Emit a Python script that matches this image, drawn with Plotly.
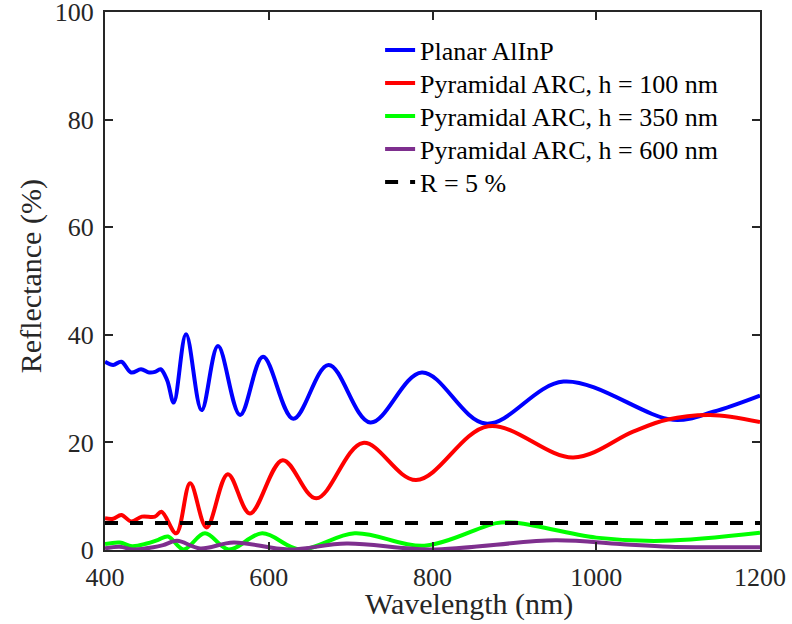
import plotly.graph_objects as go

# Planar AlInP
wl_planar = [400, 410, 420, 432, 444, 454, 461, 468, 476, 484, 499, 518, 538, 565, 593, 630, 673, 724, 787, 865, 960, 1094, 1143, 1200]
r_planar = [35.0, 34.4, 35.0, 33.0, 33.6, 33.0, 33.1, 33.6, 31.5, 27.4, 40.1, 26.0, 37.9, 25.1, 35.9, 24.4, 34.4, 23.7, 33.0, 23.5, 31.3, 24.2, 25.7, 28.7]

# Pyramidal ARC, h = 100 nm
wl_h100 = [400, 410, 420, 432, 445, 461, 469, 487, 504, 524, 550, 577, 617, 658, 715, 780, 868, 972, 1045, 1086, 1139, 1200]
r_h100 = [5.9, 5.8, 6.5, 5.3, 6.2, 6.2, 7.1, 3.1, 12.4, 4.2, 14.1, 6.8, 16.7, 9.6, 19.9, 13.0, 23.0, 17.2, 22.0, 24.2, 25.1, 23.8]

# Pyramidal ARC, h = 350 nm
wl_h350 = [400, 418, 433, 451, 465, 477, 496, 522, 551, 592, 638, 705, 790, 878, 900, 1000, 1082, 1200]
r_h350 = [1.1, 1.4, 0.7, 1.2, 1.9, 2.5, 0.1, 3.1, 0.1, 3.1, 0.1, 3.1, 0.8, 5.0, 5.1, 2.3, 1.7, 3.2]

# Pyramidal ARC, h = 600 nm
wl_h600 = [400, 418, 435, 459, 471, 488, 516, 557, 624, 695, 797, 950, 1029, 1090, 1200]
r_h600 = [0.3, 0.6, 0.1, 0.5, 0.9, 1.7, 0.3, 1.4, 0.1, 1.2, 0.1, 1.8, 1.1, 0.6, 0.5]

# R = 5 % reference
wl_ref = [400, 1200]
r_ref = [5, 5]

x_ticks = [400, 600, 800, 1000, 1200]
y_ticks = [0, 20, 40, 60, 80, 100]

FONT = "Liberation Serif"
AX = "#262626"

fig = go.Figure()
series = [
    (wl_planar, r_planar, "Planar AlInP", "#0000FF", None),
    (wl_h100, r_h100, "Pyramidal ARC, h = 100 nm", "#FF0000", None),
    (wl_h350, r_h350, "Pyramidal ARC, h = 350 nm", "#00FF00", None),
    (wl_h600, r_h600, "Pyramidal ARC, h = 600 nm", "#7E2F8E", None),
    (wl_ref, r_ref, "R = 5 %", "black", "13px,12px"),
]
legend_ids = ["legend", "legend2", "legend3", "legend4", "legend5"]
for (x, y, name, c, dash), lid in zip(series, legend_ids):
    line = dict(color=c, width=4)
    if dash:
        line["dash"] = dash
    else:
        line.update(shape="spline", smoothing=1.0)
    fig.add_trace(go.Scatter(x=x, y=y, name=name, mode="lines", line=line, legend=lid))

axis_common = dict(showline=True, linecolor=AX, linewidth=2, mirror="ticks",
                   ticks="inside", ticklen=8, tickwidth=2, tickcolor=AX,
                   showgrid=False, zeroline=False, ticklabeloverflow="allow",
                   automargin=False,
                   tickfont=dict(family=FONT, size=26, color=AX))

fig.update_xaxes(range=[400, 1200], tickvals=x_ticks, ticklabelstandoff=3, **axis_common)
fig.update_yaxes(range=[0, 100], tickvals=y_ticks, ticklabelstandoff=4, **axis_common)

fig.add_annotation(text="Wavelength (nm)", xref="paper", yref="paper",
                   x=0.556, y=-0.1, xanchor="center", yanchor="middle", showarrow=False,
                   font=dict(family=FONT, size=30, color=AX))
fig.add_annotation(text="Reflectance (%)", xref="paper", yref="paper",
                   x=-0.113, y=0.509, xanchor="center", yanchor="middle", showarrow=False,
                   textangle=-90, font=dict(family=FONT, size=30, color=AX))

legend_rows = [50, 83, 116, 149, 182]
layout_legends = {}
for lid, yc in zip(legend_ids, legend_rows):
    layout_legends[lid] = dict(x=0.420, y=(550 - yc) / 538, xanchor="left", yanchor="middle",
                               bgcolor="rgba(255,255,255,0)", borderwidth=0,
                               font=dict(family=FONT, size=26, color="black"))

fig.update_layout(
    width=792, height=624,
    margin=dict(l=105, r=32, t=12, b=74),
    paper_bgcolor="white", plot_bgcolor="white",
    showlegend=True,
    **layout_legends,
)

fig.write_html("out.html", config={"displayModeBar": False},
               post_script="document.body.style.margin='0';document.body.style.overflow='hidden';")
